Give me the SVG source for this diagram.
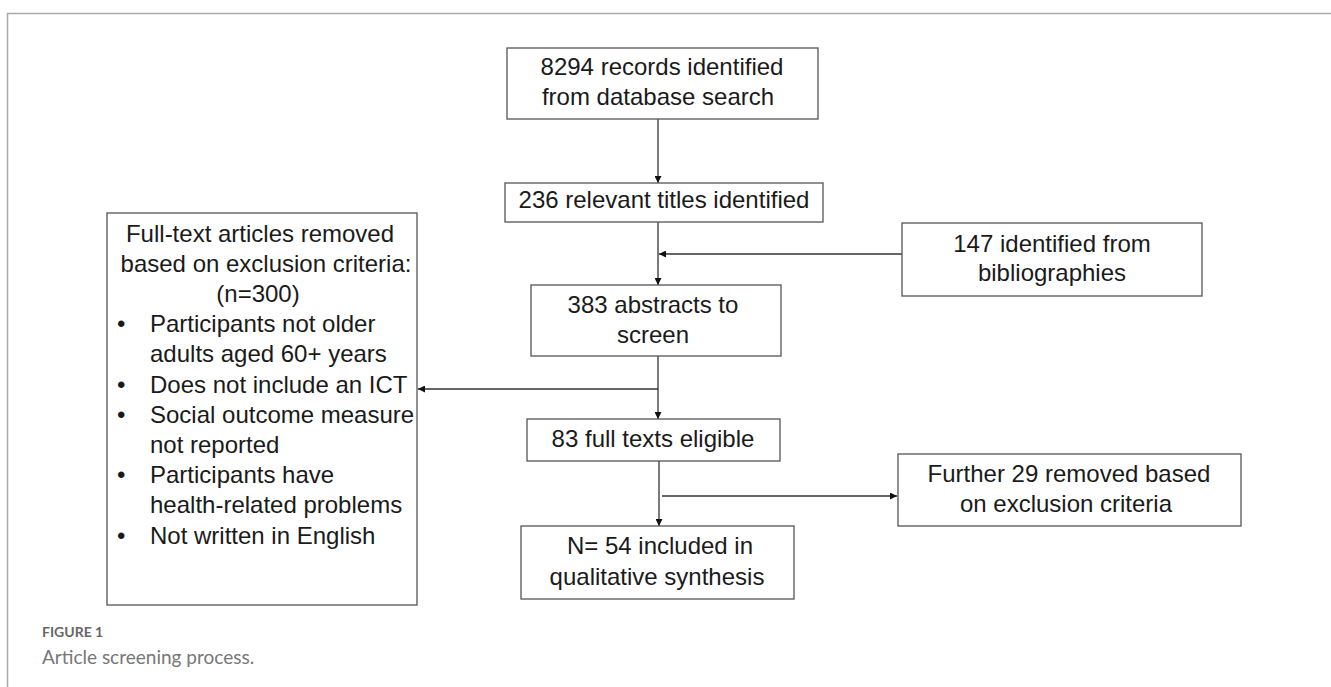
<svg xmlns="http://www.w3.org/2000/svg" width="1331" height="687" viewBox="0 0 1331 687">
<defs>
<style>
.box{fill:#fff;stroke:#555;stroke-width:1.3}
.t{font-family:"Liberation Sans",Arial,sans-serif;font-size:24px;fill:#1a1a1a}
.c{text-anchor:middle}
.ln{stroke:#333;stroke-width:1.3;fill:none}
.frame{stroke:#aaa;stroke-width:1.5;fill:none}
</style>
<marker id="ah" viewBox="0 0 10 10" refX="10" refY="5" markerWidth="7" markerHeight="7" markerUnits="userSpaceOnUse" orient="auto">
<path d="M0,0 L10,5 L0,10 z" fill="#111"/>
</marker>
</defs>
<rect width="1331" height="687" fill="#fff"/>
<path class="frame" d="M7.5,687 V13.5 H1331"/>

<g id="connectors">
<line class="ln" x1="658" y1="119" x2="658" y2="183" marker-end="url(#ah)"/>
<line class="ln" x1="658" y1="222" x2="658" y2="285" marker-end="url(#ah)"/>
<line class="ln" x1="902" y1="254" x2="659" y2="254" marker-end="url(#ah)"/>
<line class="ln" x1="658" y1="356" x2="658" y2="419" marker-end="url(#ah)"/>
<line class="ln" x1="658" y1="389" x2="418" y2="389" marker-end="url(#ah)"/>
<line class="ln" x1="659" y1="461" x2="659" y2="526" marker-end="url(#ah)"/>
<line class="ln" x1="662" y1="496" x2="897" y2="496" marker-end="url(#ah)"/>
</g>

<g id="n8294">
<rect class="box" x="507" y="48" width="311" height="71"/>
<text class="t c" x="662" y="75">8294 records identified</text>
<text class="t c" x="658" y="105">from database search</text>
</g>

<g id="n236">
<rect class="box" x="505" y="183" width="318" height="39"/>
<text class="t c" x="664" y="208">236 relevant titles identified</text>
</g>

<g id="n147">
<rect class="box" x="902" y="223" width="300" height="73"/>
<text class="t c" x="1052" y="252">147 identified from</text>
<text class="t c" x="1052" y="281">bibliographies</text>
</g>

<g id="n383">
<rect class="box" x="531" y="285" width="250" height="71"/>
<text class="t c" x="653" y="313">383 abstracts to</text>
<text class="t c" x="653" y="343">screen</text>
</g>

<g id="nexcl">
<rect class="box" x="107" y="213" width="310" height="392"/>
<text class="t c" x="260" y="242">Full-text articles removed</text>
<text class="t c" x="266" y="272">based on exclusion criteria:</text>
<text class="t c" x="258" y="302">(n=300)</text>
<text class="t" x="117" y="332">•</text>
<text class="t" x="150" y="332">Participants not older</text>
<text class="t" x="150" y="362">adults aged 60+ years</text>
<text class="t" x="117" y="393">•</text>
<text class="t" x="150" y="393">Does not include an ICT</text>
<text class="t" x="117" y="423">•</text>
<text class="t" x="150" y="423">Social outcome measure</text>
<text class="t" x="150" y="453">not reported</text>
<text class="t" x="117" y="483">•</text>
<text class="t" x="150" y="483">Participants have</text>
<text class="t" x="150" y="513">health-related problems</text>
<text class="t" x="117" y="544">•</text>
<text class="t" x="150" y="544">Not written in English</text>
</g>

<g id="n83">
<rect class="box" x="527" y="419" width="253" height="42"/>
<text class="t c" x="653" y="447">83 full texts eligible</text>
</g>

<g id="n29">
<rect class="box" x="898" y="454" width="343" height="72"/>
<text class="t c" x="1069" y="482">Further 29 removed based</text>
<text class="t c" x="1066" y="512">on exclusion criteria</text>
</g>

<g id="n54">
<rect class="box" x="521" y="526" width="273" height="73"/>
<text class="t c" x="660" y="554">N= 54 included in</text>
<text class="t c" x="657" y="585">qualitative synthesis</text>
</g>

<g id="caption">
<text x="42" y="637" font-family="Lato,'Liberation Sans',sans-serif" font-size="14" font-weight="bold" fill="#666">FIGURE 1</text>
<text x="42" y="664" font-family="Lato,'Liberation Sans',sans-serif" font-size="19" fill="#777">Article screening process.</text>
</g>
</svg>
